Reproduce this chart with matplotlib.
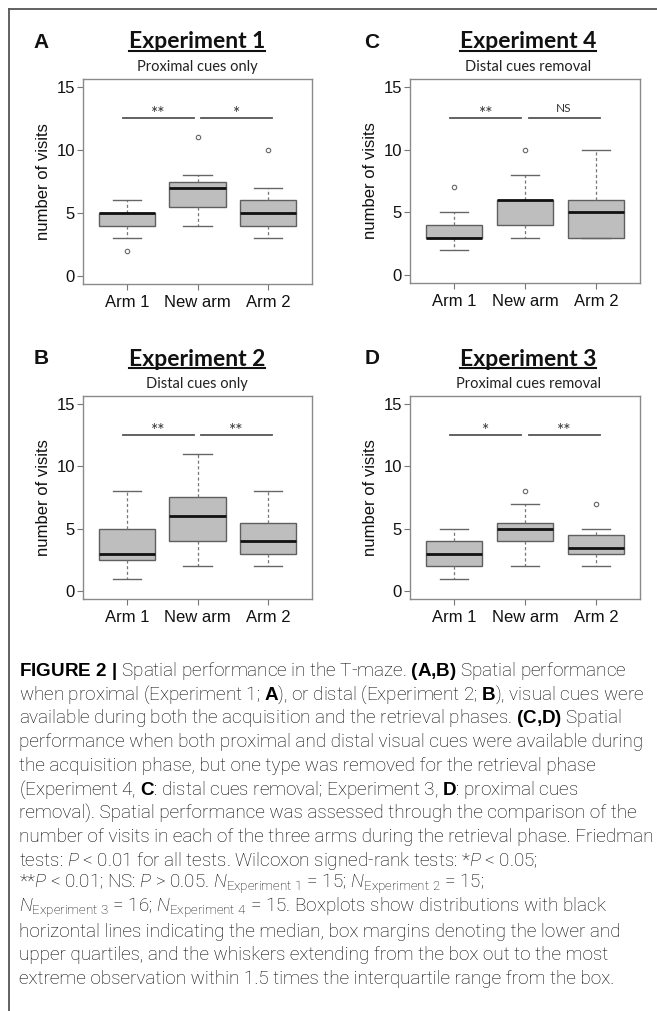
#!/usr/bin/env python3
"""T-maze 空间表现箱线图 (4 面板) + 图注。"""
import numpy as np
import matplotlib
matplotlib.use("Agg")
import matplotlib.pyplot as plt
from matplotlib.lines import Line2D

W, H = 657, 1011
ARMS = ["Arm 1", "New arm", "Arm 2"]
POS = [1, 2, 3]
SIG_Y = 12.5

# --- A: Experiment 1, proximal cues only ---
A_MED = [5, 7, 5]
A_Q1 = [4, 5.5, 4]
A_Q3 = [5, 7.5, 6]
A_LO = [3, 4, 3]
A_HI = [6, 8, 7]
A_OUT = [[2], [11], [10]]
A_SIG = ["**", "*"]

# --- B: Experiment 2, distal cues only ---
B_MED = [3, 6, 4]
B_Q1 = [2.5, 4, 3]
B_Q3 = [5, 7.5, 5.5]
B_LO = [1, 2, 2]
B_HI = [8, 11, 8]
B_OUT = [[], [], []]
B_SIG = ["**", "**"]

# --- C: Experiment 4, distal cues removal ---
C_MED = [3, 6, 5]
C_Q1 = [3, 4, 3]
C_Q3 = [4, 6, 6]
C_LO = [2, 3, 3]
C_HI = [5, 8, 10]
C_OUT = [[7], [10], []]
C_SIG = ["**", "NS"]

# --- D: Experiment 3, proximal cues removal ---
D_MED = [3, 5, 3.5]
D_Q1 = [2, 4, 3]
D_Q3 = [4, 5.5, 4.5]
D_LO = [1, 2, 2]
D_HI = [5, 7, 5]
D_OUT = [[], [8], [7]]
D_SIG = ["*", "**"]

CAPTION = [
    r"$\mathbf{FIGURE\ 2\ |}$ Spatial performance in the T-maze. $\mathbf{(A{,}B)}$ Spatial performance",
    r"when proximal (Experiment 1; $\mathbf{A}$), or distal (Experiment 2; $\mathbf{B}$), visual cues were",
    r"available during both the acquisition and the retrieval phases. $\mathbf{(C{,}D)}$ Spatial",
    r"performance when both proximal and distal visual cues were available during",
    r"the acquisition phase, but one type was removed for the retrieval phase",
    r"(Experiment 4, $\mathbf{C}$: distal cues removal; Experiment 3, $\mathbf{D}$: proximal cues",
    r"removal). Spatial performance was assessed through the comparison of the",
    r"number of visits in each of the three arms during the retrieval phase. Friedman",
    r"tests: $P$ < 0.01 for all tests. Wilcoxon signed-rank tests: *$P$ < 0.05;",
    r"**$P$ < 0.01; NS: $P$ > 0.05. $N_{\mathrm{Experiment\ 1}}$ = 15; $N_{\mathrm{Experiment\ 2}}$ = 15;",
    r"$N_{\mathrm{Experiment\ 3}}$ = 16; $N_{\mathrm{Experiment\ 4}}$ = 15. Boxplots show distributions with black",
    r"horizontal lines indicating the median, box margins denoting the lower and",
    r"upper quartiles, and the whiskers extending from the box out to the most",
    r"extreme observation within 1.5 times the interquartile range from the box.",
]

plt.rcParams["font.family"] = ["Liberation Sans", "DejaVu Sans"]
plt.rcParams["mathtext.fontset"] = "custom"
plt.rcParams["mathtext.rm"] = "Roboto:light"
plt.rcParams["mathtext.it"] = "Roboto:italic:light"
plt.rcParams["mathtext.bf"] = "Liberation Sans:bold"

GRAY_BOX = "#BEBEBE"
EDGE = "#5f5f5f"
FRAME = "#8a8a8a"


def px_axes(fig, left, top, right, bottom):
    """像素坐标 (左上原点) -> add_axes 分数。"""
    return fig.add_axes([left / W, 1 - bottom / H, (right - left) / W, (bottom - top) / H])


def fy(y):
    return 1 - y / H


def draw_panel(fig, ax, letter, title, subtitle, med, q1, q3, lo, hi, out, sig,
               cx, ty):
    stats = []
    for i in range(len(ARMS)):
        stats.append(dict(med=med[i], q1=q1[i], q3=q3[i], whislo=lo[i],
                          whishi=hi[i], fliers=out[i], label=ARMS[i]))
    ax.bxp(stats, positions=POS, widths=0.8, capwidths=0.4, patch_artist=True,
           boxprops=dict(facecolor=GRAY_BOX, edgecolor=EDGE, lw=1.0),
           medianprops=dict(color="#111111", lw=2.0, solid_capstyle="butt"),
           whiskerprops=dict(color="#777777", lw=0.9, ls=(0, (2.5, 2))),
           capprops=dict(color="#666666", lw=1.0),
           flierprops=dict(marker="o", ms=3.2, mfc="none", mec="#666666", mew=0.8))
    ax.set_xlim(0.38, 3.62)
    ax.set_ylim(-0.6, 15.6)
    ax.set_yticks([0, 5, 10, 15])
    ax.set_xticks(POS)
    ax.set_xticklabels(ARMS)
    for s in ax.spines.values():
        s.set_color(FRAME)
        s.set_linewidth(1.0)
    ax.tick_params(direction="out", length=4.3, width=0.8, color="#777777",
                   labelsize=12, labelcolor="#111111")
    ax.tick_params(axis="y", pad=1.5)
    ax.tick_params(axis="x", pad=3.5)
    ax.set_ylabel("number of visits", fontsize=12, color="#111111", labelpad=4)

    # 显著性横线 + 星号
    xs = [(POS[0] - 0.05, POS[1] - 0.05), (POS[1] + 0.05, POS[2] + 0.05)]
    for (x0, x1), lab in zip(xs, sig):
        ax.plot([x0, x1], [SIG_Y, SIG_Y], color="#555555", lw=1.3)
        if lab == "NS":
            ax.text((x0 + x1) / 2, SIG_Y + 0.35, lab, ha="center", va="bottom",
                    fontsize=8.5, family="Lato", color="#333333")
        else:
            ax.text((x0 + x1) / 2, SIG_Y - 0.3, lab, ha="center", va="bottom",
                    fontsize=12.5, family="Lato", color="#333333")

    # 面板字母、标题、副标题
    fig.text((cx - 156) / W, fy(ty), letter, ha="center", va="center",
             fontsize=15, fontweight="bold", color="#111111")
    t = fig.text(cx / W, fy(ty), title, ha="center", va="center", fontsize=16.5,
                 fontweight="bold", family="Lato", color="#111111")
    fig.text(cx / W, fy(ty + 25), subtitle, ha="center", va="center",
             fontsize=10.5, family="Lato", color="#222222")
    return t


fig = plt.figure(figsize=(W / 100, H / 100), dpi=100)
fig.patch.set_facecolor("white")

axA = px_axes(fig, 83, 79, 312, 284)
axC = px_axes(fig, 410, 79, 640, 283)
axB = px_axes(fig, 83, 396, 312, 599)
axD = px_axes(fig, 410, 396, 640, 599)

titles = []
titles.append(draw_panel(fig, axA, "A", "Experiment 1", "Proximal cues only",
                         A_MED, A_Q1, A_Q3, A_LO, A_HI, A_OUT, A_SIG, 197, 42))
titles.append(draw_panel(fig, axC, "C", "Experiment 4", "Distal cues removal",
                         C_MED, C_Q1, C_Q3, C_LO, C_HI, C_OUT, C_SIG, 528, 42))
titles.append(draw_panel(fig, axB, "B", "Experiment 2", "Distal cues only",
                         B_MED, B_Q1, B_Q3, B_LO, B_HI, B_OUT, B_SIG, 197, 359))
titles.append(draw_panel(fig, axD, "D", "Experiment 3", "Proximal cues removal",
                         D_MED, D_Q1, D_Q3, D_LO, D_HI, D_OUT, D_SIG, 528, 359))

# 标题下划线 (matplotlib 无原生下划线, 按文字包围盒画线)
r = fig.canvas.get_renderer()
for t in titles:
    bb = t.get_window_extent(renderer=r)
    y = (bb.y0 + 1.5) / H
    fig.add_artist(Line2D([bb.x0 / W, bb.x1 / W], [y, y], color="#111111",
                          lw=1.5, transform=fig.transFigure))

# 外框线 (上、左)
fig.add_artist(Line2D([9 / W, 1], [fy(9), fy(9)], color="#555555", lw=1.3,
                      transform=fig.transFigure))
fig.add_artist(Line2D([9 / W, 9 / W], [fy(9), 0], color="#555555", lw=1.3,
                      transform=fig.transFigure))

# 图注
for i, line in enumerate(CAPTION):
    fig.text(19 / W, fy(671 + 23.7 * i), line, ha="left", va="center",
             fontsize=13.6, family="Roboto", fontweight="light", color="#000000")

fig.savefig("out.png", dpi=100)
